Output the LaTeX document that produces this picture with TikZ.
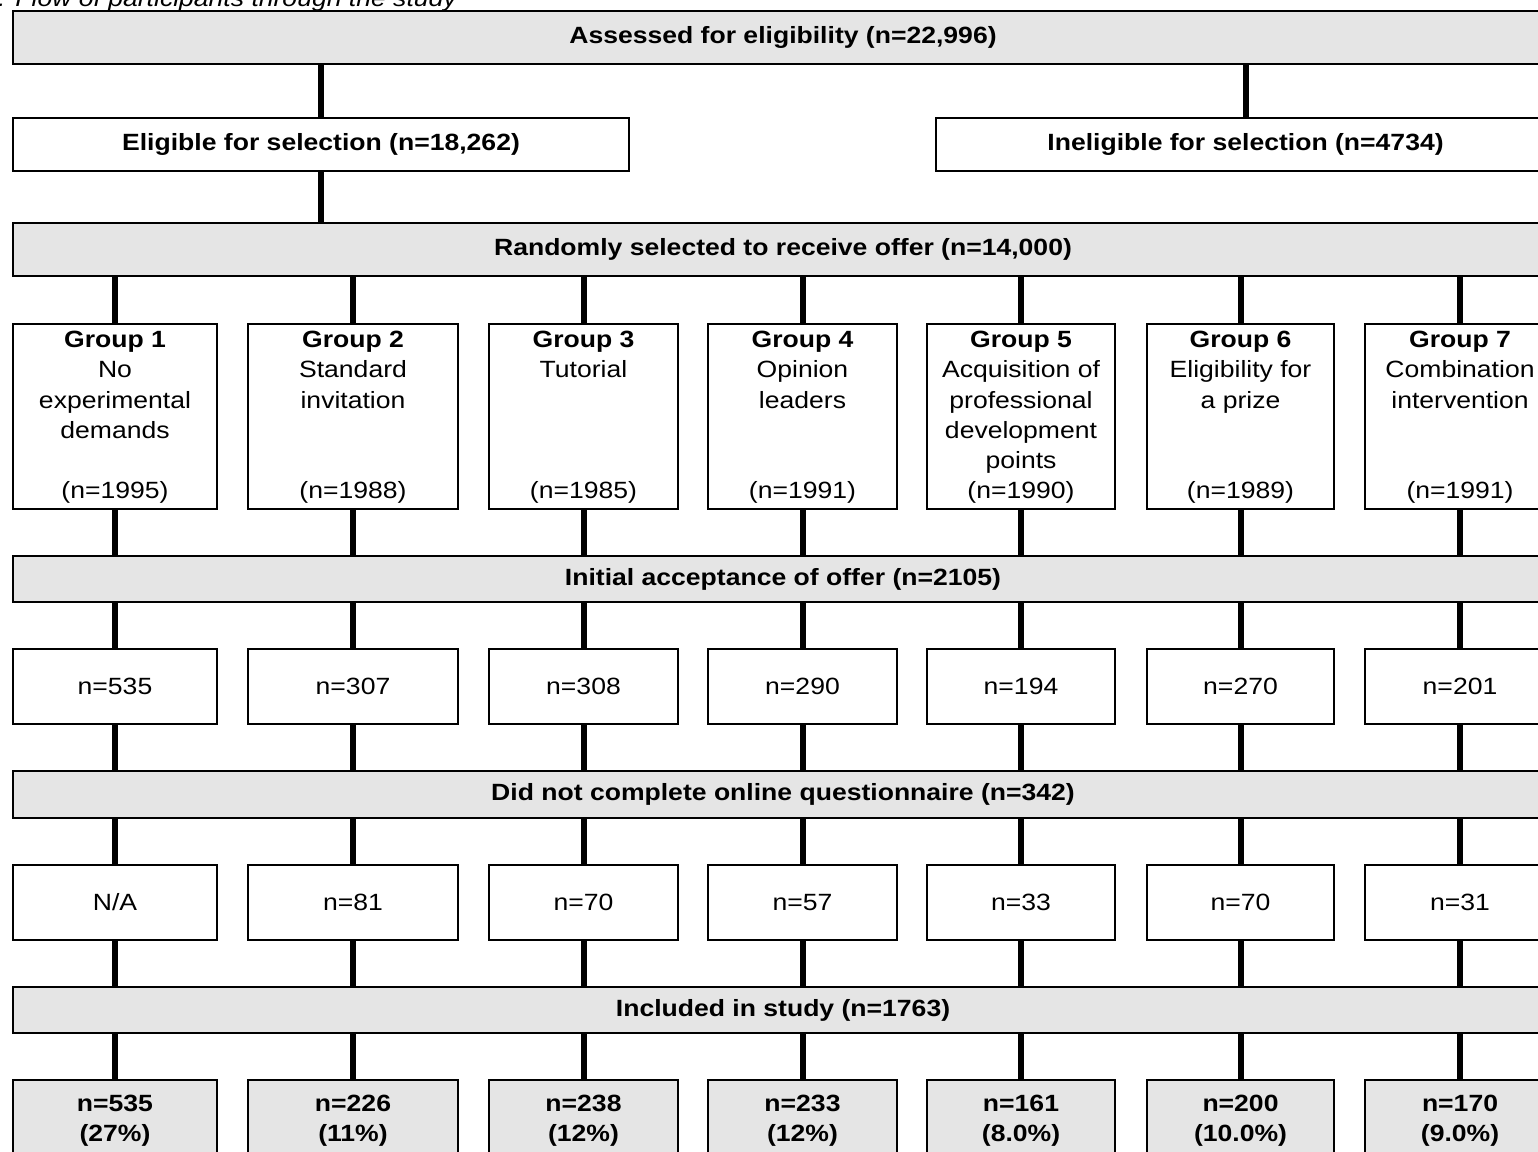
\documentclass[tikz,border=0pt]{standalone}
\usepackage{fontspec}
\setmainfont[FakeStretch=1.13]{Liberation Sans}
\begin{document}
\begin{tikzpicture}[x=1pt,y=-1pt,
  box/.style={draw, line width=2pt, inner sep=0pt, anchor=north west, fill=white},
  gbox/.style={box, fill=black!10},
  bigtxt/.style={font=\fontsize{23.5}{30.2}\selectfont\bfseries, inner sep=0pt},
  txt/.style={font=\fontsize{23.5}{30.2}\selectfont, inner sep=0pt, align=center},
  conn/.style={line width=6pt}]
\useasboundingbox (0,0) rectangle (1538,1151);
\clip (0,0) rectangle (1538,1151);

\node[anchor=base west, font=\fontsize{23.5}{30.2}\selectfont\itshape, inner sep=0pt] (cap) at (-2,6) {: Flow of participants through the study};

\node[gbox, minimum width=1540, minimum height=53] (assess) at (12,10) {};
\node[bigtxt] (assesst) at (assess.center) {Assessed for eligibility (n=22,996)};
\node[box, minimum width=616, minimum height=53] (elig) at (12,117) {};
\node[bigtxt] (eligt) at (elig.center) {Eligible for selection (n=18,262)};
\node[box, minimum width=619, minimum height=53] (inel) at (935,117) {};
\node[bigtxt] (inelt) at (inel.center) {Ineligible for selection (n=4734)};
\node[gbox, minimum width=1540, minimum height=53] (rand) at (12,222) {};
\node[bigtxt] (randt) at (rand.center) {Randomly selected to receive offer (n=14,000)};
\node[gbox, minimum width=1540, minimum height=46] (init) at (12,555) {};
\node[bigtxt] (initt) at (init.center) {Initial acceptance of offer (n=2105)};
\node[gbox, minimum width=1540, minimum height=47] (dnc) at (12,770) {};
\node[bigtxt] (dnct) at (dnc.center) {Did not complete online questionnaire (n=342)};
\node[gbox, minimum width=1540, minimum height=46] (incl) at (12,986) {};
\node[bigtxt] (inclt) at (incl.center) {Included in study (n=1763)};

\foreach \i/\l/\w/\na/\nb/\nc/\pc in {
  1/12/204/n=535/N\slash A/n=535/27\%,
  2/247/210/n=307/n=81/n=226/11\%,
  3/488/189/n=308/n=70/n=238/12\%,
  4/707/189/n=290/n=57/n=233/12\%,
  5/926/188/n=194/n=33/n=161/8.0\%,
  6/1146/187/n=270/n=70/n=200/10.0\%,
  7/1364/190/n=201/n=31/n=170/9.0\%} {
  \node[box, minimum width=\w, minimum height=185] (g\i) at (\l,323) {};
  \node[box, minimum width=\w, minimum height=75] (a\i) at (\l,648) {};
  \node[txt] (a\i t) at (a\i.center) {\na};
  \node[box, minimum width=\w, minimum height=75] (b\i) at (\l,864) {};
  \node[txt] (b\i t) at (b\i.center) {\nb};
  \node[gbox, minimum width=\w, minimum height=100] (c\i) at (\l,1079) {};
  \node[txt, anchor=north, font=\fontsize{23.5}{30.2}\selectfont\bfseries] (c\i t) at ([yshift=-16pt]c\i.north) {\nc\\(\pc)};
}

\node[txt, anchor=north] (g1t) at ([yshift=-8pt]g1.north) {\textbf{Group 1}\\No\\experimental\\demands\\~\\(n=1995)};
\node[txt, anchor=north] (g2t) at ([yshift=-8pt]g2.north) {\textbf{Group 2}\\Standard\\invitation\\~\\~\\(n=1988)};
\node[txt, anchor=north] (g3t) at ([yshift=-8pt]g3.north) {\textbf{Group 3}\\Tutorial\\~\\~\\~\\(n=1985)};
\node[txt, anchor=north] (g4t) at ([yshift=-8pt]g4.north) {\textbf{Group 4}\\Opinion\\leaders\\~\\~\\(n=1991)};
\node[txt, anchor=north] (g5t) at ([yshift=-8pt]g5.north) {\textbf{Group 5}\\Acquisition of\\professional\\development\\points\\(n=1990)};
\node[txt, anchor=north] (g6t) at ([yshift=-8pt]g6.north) {\textbf{Group 6}\\Eligibility for\\a prize\\~\\~\\(n=1989)};
\node[txt, anchor=north] (g7t) at ([yshift=-8pt]g7.north) {\textbf{Group 7}\\Combination\\intervention\\~\\~\\(n=1991)};

\draw[conn] (assess.south -| elig.north) -- (elig.north);
\draw[conn] (assess.south -| inel.north) -- (inel.north);
\draw[conn] (elig.south) -- (elig.south |- rand.north);
\foreach \i in {1,...,7} {
  \draw[conn] (rand.south -| g\i.north) -- (g\i.north);
  \draw[conn] (g\i.south) -- (g\i.south |- init.north);
  \draw[conn] (init.south -| a\i.north) -- (a\i.north);
  \draw[conn] (a\i.south) -- (a\i.south |- dnc.north);
  \draw[conn] (dnc.south -| b\i.north) -- (b\i.north);
  \draw[conn] (b\i.south) -- (b\i.south |- incl.north);
  \draw[conn] (incl.south -| c\i.north) -- (c\i.north);
}
\end{tikzpicture}
\end{document}
